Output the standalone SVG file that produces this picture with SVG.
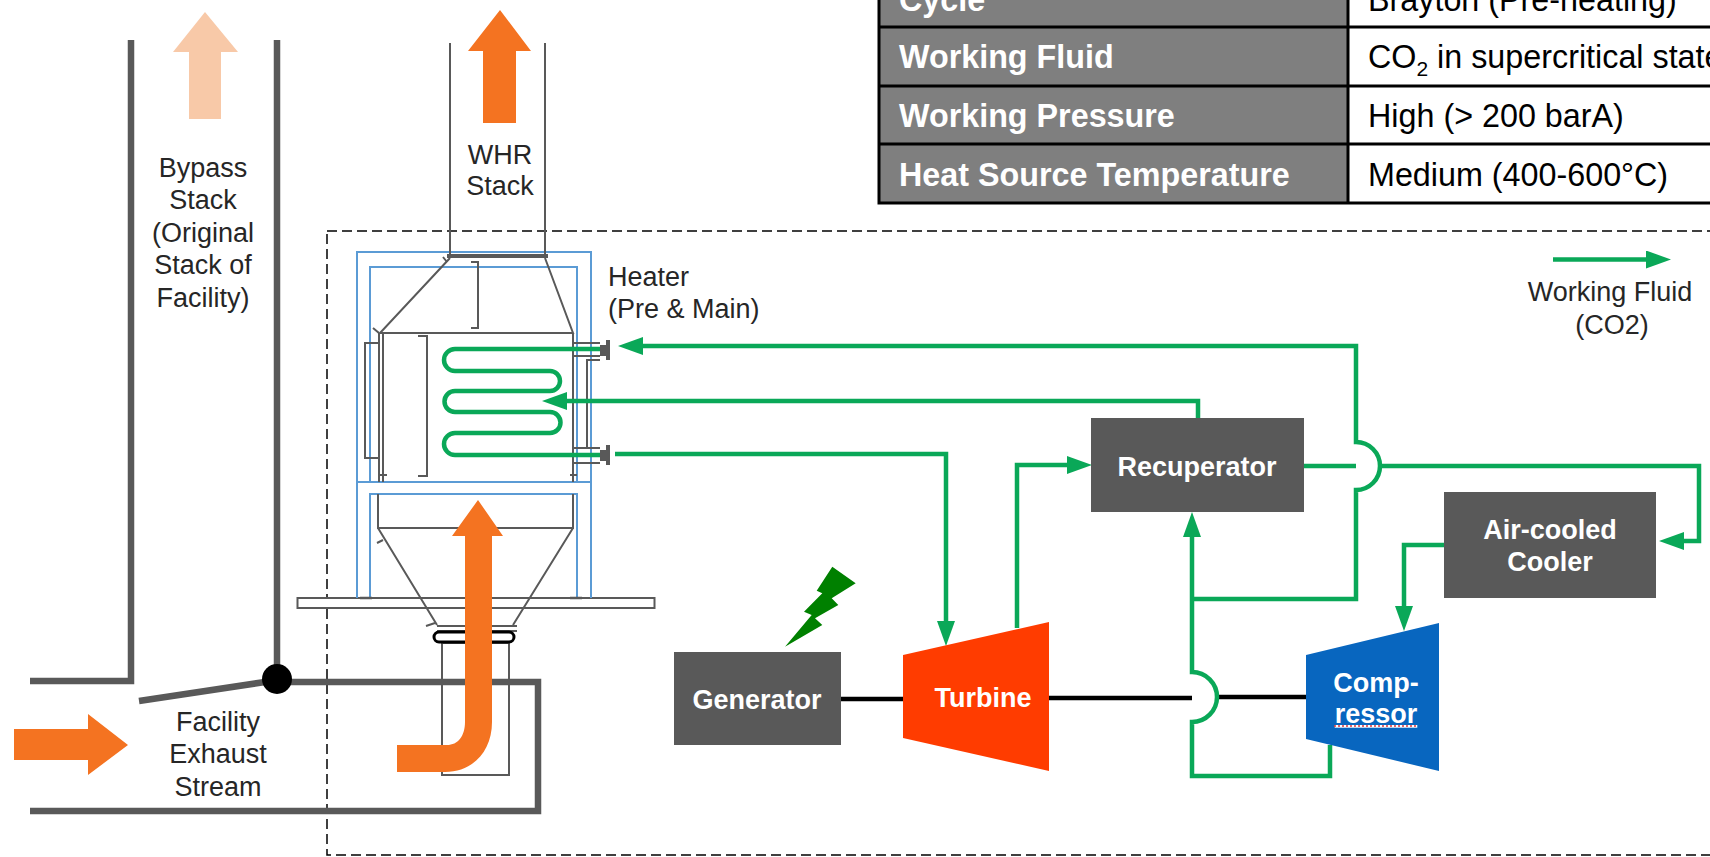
<svg xmlns="http://www.w3.org/2000/svg" width="1710" height="857" viewBox="0 0 1710 857">
<style>
text{font-family:"Liberation Sans",Arial,sans-serif}
.lb{font-size:27px;fill:#262626;text-anchor:middle}
.nd{font-size:27px;font-weight:bold;fill:#fff;text-anchor:middle}
.th{font-size:32.300px;font-weight:bold;fill:#fff}
.td{font-size:32.300px;fill:#000}
.box{fill:#595959}
.g{fill:none;stroke:#0aa858;stroke-width:4.500}
.gm{marker-end:url(#ah)}
.duct{fill:none;stroke:#595959;stroke-width:6.500}
.eq{fill:none;stroke:#595959;stroke-width:2}
.bl{fill:none;stroke:#5b9bd5;stroke-width:2}
.or{fill:#f47321}
.sh{fill:none;stroke:#000;stroke-width:4.500}
</style>
<defs>
<marker id="ah" markerUnits="userSpaceOnUse" markerWidth="25" markerHeight="18" viewBox="0 0 25 18" refX="1" refY="9" orient="auto"><path d="M0 0L25 9L0 18Z" fill="#0aa858"/></marker>
</defs>
<rect width="1710" height="857" fill="#fff"/>

<g id="table">
<rect x="879" y="-10" width="469" height="213" fill="#7f7f7f"/>
<path d="M879 -10V204.500M1348 -10V204.500M879 27H1710M879 86H1710M879 144H1710M879 203H1710" fill="none" stroke="#000" stroke-width="3"/>
<text class="th" x="899" y="11">Cycle</text>
<text class="th" x="899" y="68">Working Fluid</text>
<text class="th" x="899" y="127">Working Pressure</text>
<text class="th" x="899" y="186">Heat Source Temperature</text>
<text class="td" x="1368" y="11">Brayton (Pre-heating)</text>
<text class="td" x="1368" y="68">CO<tspan font-size="21" dy="8">2</tspan><tspan dy="-8"> in supercritical state</tspan></text>
<text class="td" x="1368" y="127">High (&gt; 200 barA)</text>
<text class="td" x="1368" y="186">Medium (400-600°C)</text>
</g>

<rect id="boundary" x="327" y="231" width="1400" height="624" fill="none" stroke="#000" stroke-width="1.500" stroke-dasharray="10 5"/>

<g id="bypass-stack">
<path class="duct" d="M30 681H131V40M277 40V681"/>
<path d="M173 52L205 12L238 52H221V119H189V52Z" fill="#f8c9a8"/>
<text class="lb" x="203" y="177">Bypass</text>
<text class="lb" x="203" y="209">Stack</text>
<text class="lb" x="203" y="242">(Original</text>
<text class="lb" x="203" y="274">Stack of</text>
<text class="lb" x="203" y="307">Facility)</text>
</g>

<g id="facility-exhaust">
<path class="duct" d="M277 682H538V811H30"/>
<path class="duct" d="M139 701L265 682"/>
<circle cx="277" cy="679" r="15" fill="#000"/>
<path class="or" d="M14 729H88V714L128 745L88 775V760H14Z"/>
<text class="lb" x="218" y="731">Facility</text>
<text class="lb" x="218" y="763">Exhaust</text>
<text class="lb" x="218" y="796">Stream</text>
</g>

<g id="heater">
<rect x="297.500" y="598" width="357" height="10" fill="#fff" stroke="#595959" stroke-width="2"/>
<path class="bl" d="M357 598V252H591V598M370 598V494H577V598M370 482V267H577V482M357 482H591"/>
<path d="M360 598H372M570 598H582" stroke="#595959" stroke-width="2.500"/>
<path class="eq" d="M450 43V255M545 43V255"/>
<path d="M447 256H548" stroke="#595959" stroke-width="4" fill="none"/>
<path class="eq" d="M450 258L380 333H573L545 258M379 333V482M383 333V482M573 333V482"/>
<path class="eq" d="M471 262H478V328H471M418 336H427V476H418M378 343H365V458H378"/>
<path class="eq" d="M443 257L447 262M373 328L379 333M378 475H387M570 475H577M377 543L383 540M426 626L435 623"/>
<path class="eq" d="M378 494V528H573V494M378 528L437 625M573 528L513 625"/>
<path class="eq" d="M437 626H517M437 631H517M442 643H509V775H442V643"/>
<rect x="434" y="632" width="80" height="10" rx="5" fill="none" stroke="#000" stroke-width="3"/>
<path class="eq" d="M573 343H600M573 356H600M573 448H600M573 463H600M600 360H587V448H600"/>
<path d="M600 345H606V356H600ZM600 450H606V461H600Z" fill="#595959"/>
<path d="M608 340V360M608 445V465" stroke="#595959" stroke-width="4"/>
<path class="g" d="M600 349H455A11 11 0 0 0 455 371H550A10 10 0 0 1 550 391H455A10.500 10.500 0 0 0 455 412H550A10.500 10.500 0 0 1 550 433H455A11 11 0 0 0 455 455H600"/>
<text class="lb" x="608" y="286" style="text-anchor:start">Heater</text>
<text class="lb" x="608" y="318" style="text-anchor:start">(Pre &amp; Main)</text>
</g>

<g id="exhaust-flow">
<path class="or" d="M397 745H447C458 745 465 736 465 722V536H452L478 500L503 536H492V722C492 752 472 772 445 772H397Z"/>
</g>

<g id="whr-stack">
<path class="or" d="M468 51L500 10L531 51H516V123H483V51Z"/>
<text class="lb" x="500" y="164">WHR</text>
<text class="lb" x="500" y="195">Stack</text>
</g>

<g id="connectors">
<path class="sh" d="M841 699H903M1049 698H1192M1218 697H1306"/>
<path class="g gm" d="M615 454H946V622"/>
<path class="g gm" d="M1017 628V465H1068"/>
<path class="g gm" d="M1198 418V401H566"/>
<path class="g" d="M1303 466H1356"/>
<path class="g gm" d="M1381 466H1699V541H1683"/>
<path class="g gm" d="M1444 545H1404V607"/>
<path class="g gm" d="M1192 599H1356V490A24 24 0 0 0 1356 442V346H642"/>
<path class="g gm" d="M1330 745V776H1192V722A25 25 0 0 0 1192 672V536"/>
<path class="g gm" d="M1553 259.500H1647"/>
</g>

<g id="generator">
<rect class="box" x="674" y="652" width="167" height="93"/>
<text class="nd" x="757" y="709">Generator</text>
<path d="M832.300 566.700L855.700 583.300L831.700 598.300L838.300 605L815 618.300L822.300 625L785 646.700L811.700 615L804 611.700L822.300 593.300L816.700 590.700Z" fill="#008000"/>
</g>

<g id="turbine">
<path d="M903 655L1049 622V771L903 738Z" fill="#ff3c00"/>
<text class="nd" x="983" y="707">Turbine</text>
</g>

<g id="recuperator">
<rect class="box" x="1091" y="418" width="213" height="94"/>
<text class="nd" x="1197" y="476">Recuperator</text>
</g>

<g id="cooler">
<rect class="box" x="1444" y="492" width="212" height="106"/>
<text class="nd" x="1550" y="539">Air-cooled</text>
<text class="nd" x="1550" y="571">Cooler</text>
</g>

<g id="compressor">
<path d="M1306 655L1439 623V771L1306 739Z" fill="#0866bf"/>
<text class="nd" x="1376" y="692">Comp-</text>
<text class="nd" x="1376" y="723" text-decoration="underline">ressor</text>
<path d="M1334 726H1418" stroke="#d9363e" stroke-width="1.500" stroke-dasharray="2 2" fill="none"/>
</g>

<g id="legend">
<text class="lb" x="1610" y="301">Working Fluid</text>
<text class="lb" x="1612" y="334">(CO2)</text>
</g>
</svg>
